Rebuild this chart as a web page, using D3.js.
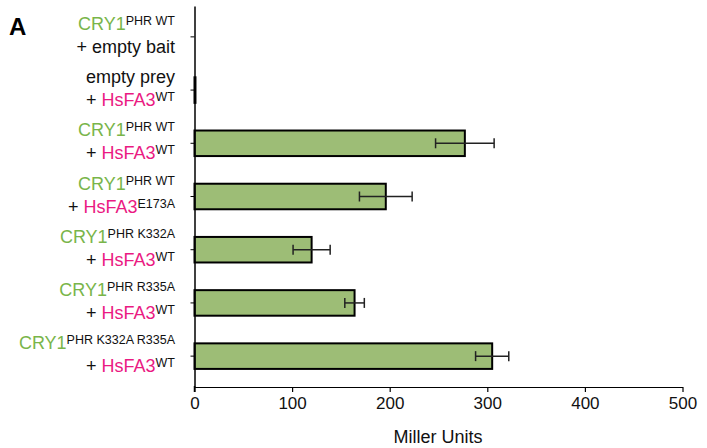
<!DOCTYPE html>
<html>
<head>
<meta charset="utf-8">
<script src="https://cdn.jsdelivr.net/npm/d3@7/dist/d3.min.js"></script>
<style>
  html, body { margin: 0; padding: 0; background: #fff; }
  svg { display: block; font-family: "Liberation Sans", Arial, Helvetica, sans-serif; }
</style>
</head>
<body>
<svg id="chart" width="707" height="448"></svg>
<script>
// Yeast two-hybrid interaction strength (Miller units)
const categories = ["r1", "r2", "r3", "r4", "r5", "r6", "r7"];
// bait / prey construct names with superscript variant labels
const line1Main = ["CRY1", "empty prey", "CRY1", "CRY1", "CRY1", "CRY1", "CRY1"];
const line1Sup  = ["PHR WT", "", "PHR WT", "PHR WT", "PHR K332A", "PHR R335A", "PHR K332A R335A"];
const line2Main = ["empty bait", "HsFA3", "HsFA3", "HsFA3", "HsFA3", "HsFA3", "HsFA3"];
const line2Sup  = ["", "WT", "WT", "E173A", "WT", "WT", "WT"];
const values = [0, 1, 277, 196, 120, 164, 305];
const errors = [0, 0, 30, 27, 19, 10, 17];
const xTicks = [0, 100, 200, 300, 400, 500];

const green = "#79b54a", pink = "#ea1a82", barFill = "#9dbd76";

const svg = d3.select("#chart");
const x = d3.scaleLinear().domain([0, 500]).range([194.5, 682.5]);
const y = d3.scaleBand().domain(categories).range([6, 387])
  .paddingInner(0.52).paddingOuter(0.34);

// panel letter
svg.append("text").attr("x", 9).attr("y", 35)
  .attr("font-size", 24).attr("font-weight", "bold").attr("fill", "#000").text("A");

// bars
svg.append("g").selectAll("rect").data(categories).join("rect")
  .filter((d, i) => values[i] > 0)
  .attr("x", x(0))
  .attr("y", d => y(d))
  .attr("width", d => x(values[categories.indexOf(d)]) - x(0))
  .attr("height", y.bandwidth())
  .attr("fill", barFill).attr("stroke", "#000").attr("stroke-width", 2);

// error bars
const eb = svg.append("g").attr("stroke", "#222").attr("stroke-width", 1.5);
categories.forEach((c, i) => {
  if (errors[i] <= 0) return;
  const cy = y(c) + y.bandwidth() / 2;
  const x0 = x(values[i] - errors[i]), x1 = x(values[i] + errors[i]);
  eb.append("line").attr("x1", x0).attr("x2", x1).attr("y1", cy).attr("y2", cy);
  eb.append("line").attr("x1", x0).attr("x2", x0).attr("y1", cy - 5).attr("y2", cy + 5);
  eb.append("line").attr("x1", x1).attr("x2", x1).attr("y1", cy - 5).attr("y2", cy + 5);
});

// x axis
const xAxis = svg.append("g").attr("transform", "translate(0,387)")
  .call(d3.axisBottom(x).tickValues(xTicks).tickSize(5).tickPadding(5).tickSizeOuter(0));
xAxis.select(".domain").attr("stroke", "#000").attr("stroke-width", 1.2);
xAxis.selectAll(".tick line").attr("stroke", "#000").attr("stroke-width", 1.2);
xAxis.selectAll("text").attr("font-size", 17).attr("fill", "#111")
  .attr("font-family", "Liberation Sans, Arial, sans-serif");

svg.append("text").attr("x", 438).attr("y", 443).attr("text-anchor", "middle")
  .attr("font-size", 18).attr("fill", "#111").text("Miller Units");

// y axis
const yAxis = svg.append("g").attr("transform", "translate(194.5,0)")
  .call(d3.axisLeft(y).tickSize(4).tickFormat("").tickSizeOuter(0));
yAxis.select(".domain").attr("stroke", "#000").attr("stroke-width", 1.5);
yAxis.selectAll(".tick line").attr("stroke", "#000").attr("stroke-width", 1);
svg.append("line").attr("x1", 194.5).attr("x2", 194.5).attr("y1", 386).attr("y2", 392)
  .attr("stroke", "#000").attr("stroke-width", 1.5);

// category labels (two lines each)
const lx = 175;
categories.forEach((c, i) => {
  const cy = y(c) + y.bandwidth() / 2;
  const t1 = svg.append("text").attr("x", lx).attr("y", cy - 7)
    .attr("text-anchor", "end").attr("font-size", 18);
  const isCry = line1Main[i] === "CRY1";
  t1.append("tspan").attr("fill", isCry ? green : "#111").text(line1Main[i]);
  if (line1Sup[i]) t1.append("tspan").attr("font-size", 12.5).attr("dy", -5)
    .attr("fill", "#111").text(line1Sup[i]);

  const t2 = svg.append("text").attr("x", lx).attr("y", cy + 16)
    .attr("text-anchor", "end").attr("font-size", 18);
  t2.append("tspan").attr("fill", "#111").text("+ ");
  const isFa = line2Main[i] === "HsFA3";
  t2.append("tspan").attr("fill", isFa ? pink : "#111").text(line2Main[i]);
  if (line2Sup[i]) t2.append("tspan").attr("font-size", 12.5).attr("dy", -5)
    .attr("fill", "#111").text(line2Sup[i]);
});
</script>
</body>
</html>
